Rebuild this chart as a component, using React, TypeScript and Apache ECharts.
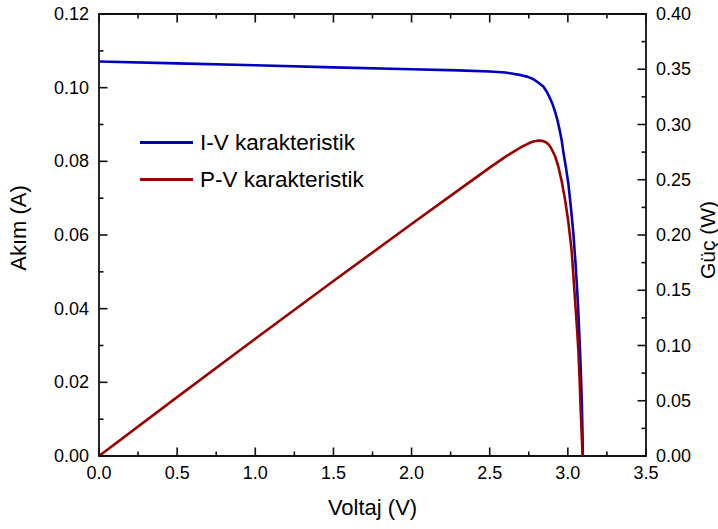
import React, { useEffect, useRef } from "react";
import * as echarts from "echarts";

// Voltage (V) and current (A) for the I-V characteristic
const ivVoltage = [0, 0.5, 1.0, 1.5, 2.0, 2.3, 2.5, 2.6, 2.65, 2.7, 2.74, 2.78, 2.81, 2.843, 2.865, 2.886, 2.903, 2.918, 2.935, 2.95, 2.962, 2.971, 2.987, 3.003, 3.02, 3.035, 3.047, 3.057, 3.066, 3.073, 3.082, 3.089, 3.093, 3.096];
const ivCurrent = [0.1071, 0.1066, 0.1061, 0.1055, 0.105, 0.1047, 0.1044, 0.1041, 0.1038, 0.1034, 0.103, 0.1023, 0.1014, 0.1003, 0.0989, 0.0971, 0.0954, 0.0935, 0.0909, 0.088, 0.0853, 0.0826, 0.0785, 0.074, 0.0672, 0.0605, 0.0535, 0.0469, 0.04, 0.0333, 0.024, 0.0152, 0.0075, 0.0];

// Voltage (V) and power (W) for the P-V characteristic
const pvVoltage = [0, 0.5, 1.0, 1.5, 2.0, 2.3, 2.5, 2.609, 2.7, 2.75, 2.78, 2.81, 2.835, 2.86, 2.88, 2.897, 2.918, 2.939, 2.96, 2.982, 3.003, 3.024, 3.035, 3.046, 3.057, 3.067, 3.075, 3.082, 3.089, 3.094];
const pvPower = [0, 0.0533, 0.1061, 0.1583, 0.21, 0.2406, 0.261, 0.2716, 0.2794, 0.283, 0.2847, 0.2855, 0.2852, 0.284, 0.2815, 0.2775, 0.2715, 0.262, 0.249, 0.232, 0.212, 0.186, 0.164, 0.141, 0.119, 0.096, 0.07, 0.042, 0.018, 0.0];

// Tick values (major and minor) of the three scales
const xMajorTicks = [0, 0.5, 1.0, 1.5, 2.0, 2.5, 3.0, 3.5];
const xMinorTicks = [0.25, 0.75, 1.25, 1.75, 2.25, 2.75, 3.25];
const yLeftMajorTicks = [0, 0.02, 0.04, 0.06, 0.08, 0.1, 0.12];
const yLeftMinorTicks = [0.01, 0.03, 0.05, 0.07, 0.09, 0.11];
const yRightMajorTicks = [0, 0.05, 0.1, 0.15, 0.2, 0.25, 0.3, 0.35, 0.4];
const yRightMinorTicks = [0.025, 0.075, 0.125, 0.175, 0.225, 0.275, 0.325, 0.375];

const seriesNames = ["I-V karakteristik", "P-V karakteristik"];
const xTitle = "Voltaj (V)";
const yLeftTitle = "Akım (A)";
const yRightTitle = "Güç (W)";

const FONT = "'Liberation Sans', Arial, sans-serif";
const AXIS_COLOR = "#111111";
const X_MIN = 0, X_MAX = 3.5, YL_MIN = 0, YL_MAX = 0.12;
const MAJOR_LEN = 8.5, MINOR_LEN = 4.5, TICK_W = 1.6;

export default function App() {
  const ref = useRef<HTMLDivElement>(null);

  useEffect(() => {
    document.body.style.margin = "0";
    const chart = echarts.init(ref.current!, null, { renderer: "svg" });

    const label = (digits: number, margin: number) => ({
      fontFamily: FONT,
      fontSize: 18,
      color: "#000",
      margin,
      formatter: (v: number) => v.toFixed(digits),
    });
    const axisLine = { show: true, onZero: false, lineStyle: { color: AXIS_COLOR, width: 1.8 } };

    // tick marks drawn as rectangular scatter symbols placed through the axes
    const tickSeries = (
      name: string,
      points: number[][],
      yAxisIndex: number,
      size: number[],
      offset: number[]
    ) => ({
      name,
      type: "scatter",
      xAxisIndex: 0,
      yAxisIndex,
      silent: true,
      clip: false,
      z: 6,
      symbol: "rect",
      symbolSize: size,
      symbolOffset: offset,
      itemStyle: { color: AXIS_COLOR, opacity: 1 },
      emphasis: { disabled: true },
      data: points,
    });

    chart.setOption({
      animation: false,
      grid: { left: 99, right: 72, top: 14, bottom: 73 },
      legend: {
        data: seriesNames,
        orient: "vertical",
        left: 140,
        top: 131,
        padding: 0,
        icon: "rect",
        itemWidth: 53,
        itemHeight: 3,
        itemGap: 14,
        textStyle: { fontFamily: FONT, fontSize: 22.5, color: "#000", lineHeight: 23, padding: [0, 0, 0, 2] },
      },
      xAxis: [
        {
          type: "value",
          position: "bottom",
          min: X_MIN,
          max: X_MAX,
          interval: 0.5,
          axisLine,
          axisTick: { show: false },
          splitLine: { show: false },
          axisLabel: label(1, 8),
        },
        {
          type: "value",
          position: "top",
          min: X_MIN,
          max: X_MAX,
          interval: 0.5,
          axisLine,
          axisTick: { show: false },
          splitLine: { show: false },
          axisLabel: { show: false },
        },
      ],
      yAxis: [
        {
          type: "value",
          position: "left",
          min: YL_MIN,
          max: YL_MAX,
          interval: 0.02,
          axisLine,
          axisTick: { show: false },
          splitLine: { show: false },
          axisLabel: label(2, 10),
        },
        {
          type: "value",
          position: "right",
          min: 0,
          max: 0.4,
          interval: 0.05,
          axisLine,
          axisTick: { show: false },
          splitLine: { show: false },
          axisLabel: label(2, 10),
        },
      ],
      graphic: [
        {
          type: "text",
          x: 372.5,
          y: 507.5,
          style: { text: xTitle, font: `22px ${FONT}`, fill: "#000", align: "center", verticalAlign: "middle" },
        },
        {
          type: "text",
          x: 18,
          y: 228,
          rotation: Math.PI / 2,
          style: { text: yLeftTitle, font: `22px ${FONT}`, fill: "#000", align: "center", verticalAlign: "middle" },
        },
        {
          type: "text",
          x: 707,
          y: 240,
          rotation: Math.PI / 2,
          style: { text: yRightTitle, font: `21px ${FONT}`, fill: "#000", align: "center", verticalAlign: "middle" },
        },
      ],
      series: [
        {
          name: seriesNames[0],
          type: "line",
          xAxisIndex: 0,
          yAxisIndex: 0,
          data: ivVoltage.map((v, i) => [v, ivCurrent[i]]),
          showSymbol: false,
          symbol: "none",
          lineStyle: { color: "#0000BF", width: 2.6, join: "round" },
          itemStyle: { color: "#0000BF" },
          z: 3,
        },
        {
          name: seriesNames[1],
          type: "line",
          xAxisIndex: 0,
          yAxisIndex: 1,
          data: pvVoltage.map((v, i) => [v, pvPower[i]]),
          showSymbol: false,
          symbol: "none",
          lineStyle: { color: "#9A0000", width: 2.6, join: "round" },
          itemStyle: { color: "#9A0000" },
          z: 4,
        },
        tickSeries("tickBottomMajor", xMajorTicks.map((v) => [v, YL_MIN]), 0, [TICK_W, MAJOR_LEN], [0, -MAJOR_LEN / 2]),
        tickSeries("tickBottomMinor", xMinorTicks.map((v) => [v, YL_MIN]), 0, [TICK_W, MINOR_LEN], [0, -MINOR_LEN / 2]),
        tickSeries("tickTopMajor", xMajorTicks.map((v) => [v, YL_MAX]), 0, [TICK_W, MAJOR_LEN], [0, MAJOR_LEN / 2]),
        tickSeries("tickTopMinor", xMinorTicks.map((v) => [v, YL_MAX]), 0, [TICK_W, MINOR_LEN], [0, MINOR_LEN / 2]),
        tickSeries("tickLeftMajor", yLeftMajorTicks.map((v) => [X_MIN, v]), 0, [MAJOR_LEN, TICK_W], [MAJOR_LEN / 2, 0]),
        tickSeries("tickLeftMinor", yLeftMinorTicks.map((v) => [X_MIN, v]), 0, [MINOR_LEN, TICK_W], [MINOR_LEN / 2, 0]),
        tickSeries("tickRightMajor", yRightMajorTicks.map((v) => [X_MAX, v]), 1, [MAJOR_LEN, TICK_W], [-MAJOR_LEN / 2, 0]),
        tickSeries("tickRightMinor", yRightMinorTicks.map((v) => [X_MAX, v]), 1, [MINOR_LEN, TICK_W], [-MINOR_LEN / 2, 0]),
      ],
    });

    return () => chart.dispose();
  }, []);

  return <div ref={ref} style={{ width: 718, height: 529 }} />;
}
